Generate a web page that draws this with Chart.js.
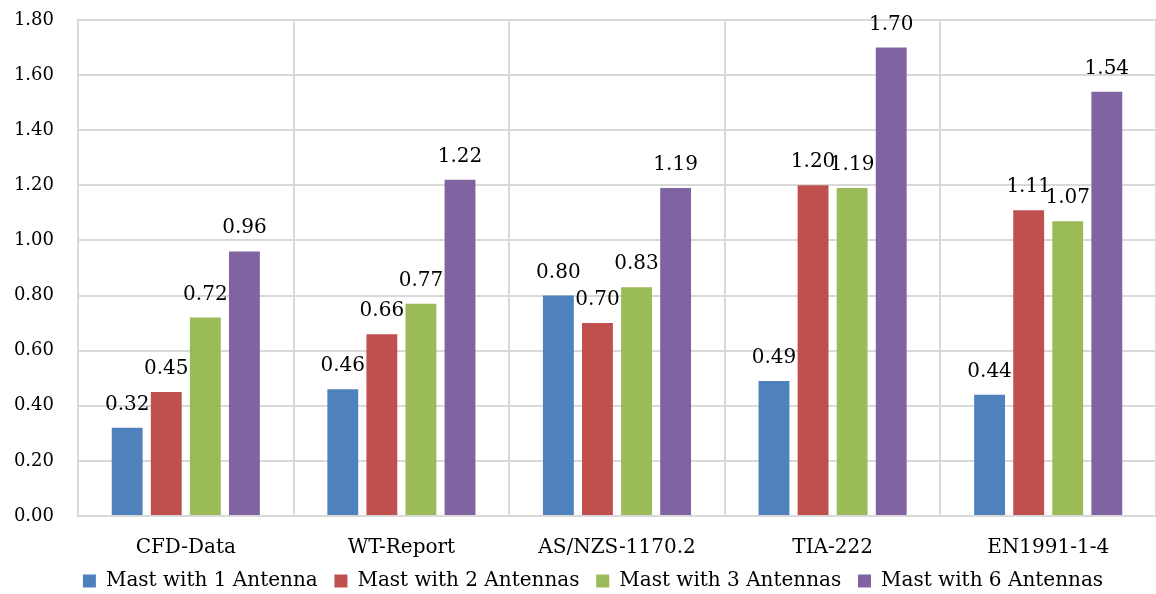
<!DOCTYPE html>
<html>
<head>
<meta charset="utf-8">
<script src="https://cdn.jsdelivr.net/npm/chart.js@4"></script>
<style>
  html, body { margin: 0; padding: 0; background: #fff; }
  #wrap { width: 1156px; height: 594px; position: relative; }
</style>
</head>
<body>
<div id="wrap"><canvas id="chart"></canvas></div>
<script>
const categories = ["CFD-Data", "WT-Report", "AS/NZS-1170.2", "TIA-222", "EN1991-1-4"];
const seriesNames = ["Mast with 1 Antenna", "Mast with 2 Antennas", "Mast with 3 Antennas", "Mast with 6 Antennas"];
const mast1 = [0.32, 0.46, 0.80, 0.49, 0.44];
const mast2 = [0.45, 0.66, 0.70, 1.20, 1.11];
const mast3 = [0.72, 0.77, 0.83, 1.19, 1.07];
const mast6 = [0.96, 1.22, 1.19, 1.70, 1.54];
const colors = ["#4F81BD", "#C0504D", "#9BBB59", "#8064A2"];

const FONT = "'DejaVu Serif', serif";

// value labels over each bar
const barLabels = {
  id: "barLabels",
  afterLayout(chart) {
    // legend sits a bit right of centre in the original
    if (chart.legend) chart.legend.left += 26;
  },
  afterDatasetsDraw(chart) {
    const ctx = chart.ctx;
    ctx.save();
    ctx.font = "20px " + FONT;
    ctx.fillStyle = "#000";
    ctx.textAlign = "center";
    ctx.textBaseline = "alphabetic";
    chart.data.datasets.forEach((ds, i) => {
      chart.getDatasetMeta(i).data.forEach((bar, j) => {
        ctx.fillText(ds.data[j].toFixed(2), bar.x, bar.y - 18);
      });
    });
    ctx.restore();
  }
};

new Chart(document.getElementById("chart"), {
  type: "bar",
  data: {
    labels: categories,
    datasets: [mast1, mast2, mast3, mast6].map((d, i) => ({
      label: seriesNames[i],
      data: d,
      backgroundColor: colors[i],
      categoryPercentage: 0.725,
      barPercentage: 0.79
    }))
  },
  options: {
    responsive: true,
    maintainAspectRatio: false,
    animation: false,
    layout: { padding: { top: 20, right: -4, left: 0, bottom: -7 } },
    scales: {
      x: {
        afterFit: s => { s.height = 51; },
        grid: { color: "#D9D9D9", lineWidth: 2, drawTicks: false, offset: true },
        border: { color: "#D9D9D9", width: 2 },
        ticks: { color: "#000", font: { family: FONT, size: 20 }, padding: 20 }
      },
      y: {
        min: 0,
        max: 1.8,
        afterFit: s => { s.width = 78; s.paddingTop = 0; s.paddingBottom = 0; },
        grid: { color: "#D9D9D9", lineWidth: 2, drawTicks: false },
        border: { color: "#D9D9D9", width: 2 },
        ticks: {
          stepSize: 0.2,
          color: "#000",
          padding: 24,
          font: { family: FONT, size: 18 },
          callback: v => v.toFixed(2)
        }
      }
    },
    plugins: {
      legend: {
        position: "bottom",
        labels: {
          color: "#000",
          font: { family: FONT, size: 20 },
          boxWidth: 13,
          boxHeight: 13,
          padding: 4,
          generateLabels: chart => {
            const items = Chart.defaults.plugins.legend.labels.generateLabels(chart);
            // a little extra room between entries
            items.forEach((it, i) => { if (i < items.length - 1) it.text += "  "; });
            return items;
          }
        }
      },
      tooltip: { enabled: false }
    }
  },
  plugins: [barLabels]
});
</script>
</body>
</html>
